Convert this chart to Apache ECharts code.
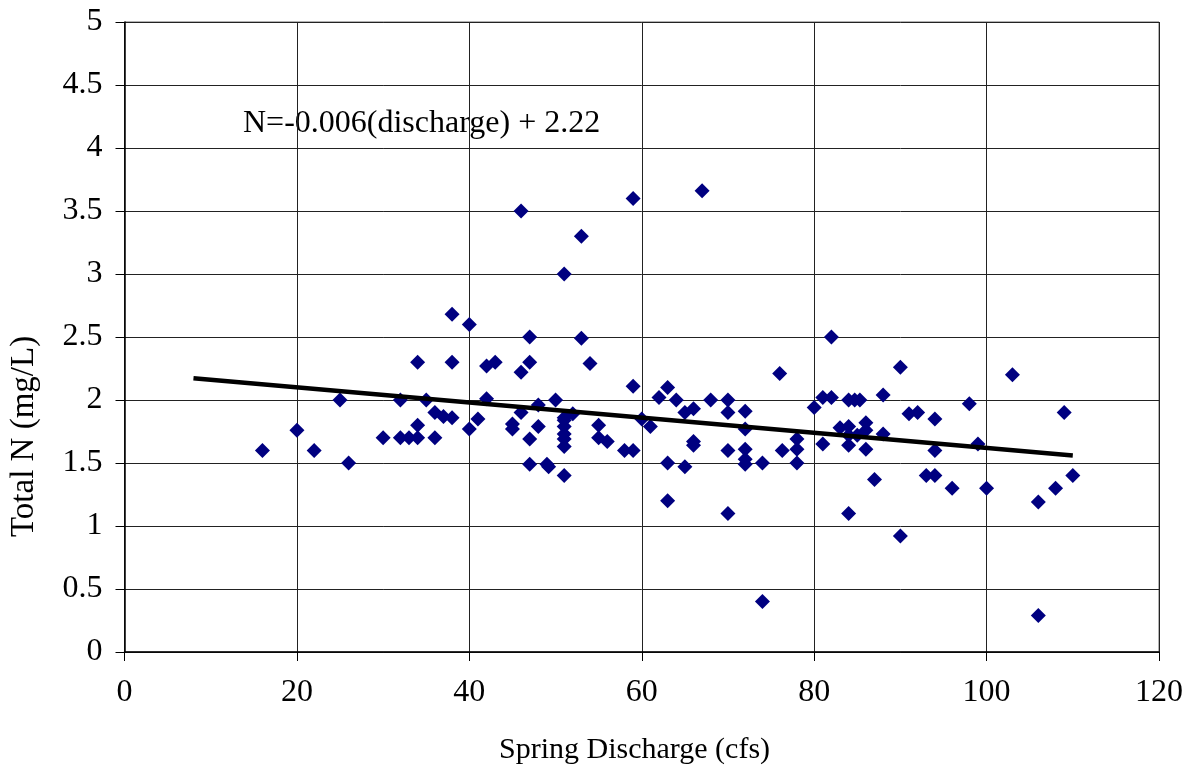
<!DOCTYPE html>
<html>
<head>
<meta charset="utf-8">
<script src="https://cdn.jsdelivr.net/npm/echarts@6/dist/echarts.min.js"></script>
<style>
html,body{margin:0;padding:0;background:#fff;}
#chart{width:1190px;height:775px;}
</style>
</head>
<body>
<div id="chart"></div>
<script>
var discharge = [16,20,22,25,26,30,32,32,33,34,34,34,35,36,36,37,38,38,38,40,40,41,42,42,43,45,45,46,46,46,47,47,47,47,48,48,49,49.2,50,51,51,51,51,51,51,51,51,52,53,53,54,55,55,56,58,59,59,59,60,61,62,63,63,63,64,65,65,66,66,66,67,68,70,70,70,70,72,72,72,72,72,74,74,76,76.3,78,78,78,80,81,81,82,82,83,84,84,84,84,84,84.7,85.3,85,86,86,86,87,88,88,90,90,91,92,93,94,94,94,96,98,99,100,103,106,106,108,109,110];
var totalN = [1.6,1.76,1.6,2.0,1.5,1.7,2.0,1.7,1.7,1.7,1.8,2.3,2.0,1.9,1.7,1.87,1.86,2.3,2.68,2.6,1.77,1.85,2.27,2.01,2.3,1.81,1.77,3.5,2.22,1.9,2.5,2.3,1.69,1.49,1.96,1.79,1.49,1.47,2.0,3.0,1.86,1.84,1.79,1.73,1.69,1.63,1.4,1.89,3.3,2.49,2.29,1.8,1.7,1.67,1.6,3.6,2.11,1.6,1.85,1.79,2.02,2.1,1.5,1.2,2.0,1.9,1.47,1.93,1.67,1.64,3.66,2.0,2.0,1.9,1.6,1.1,1.91,1.77,1.61,1.53,1.49,1.5,0.4,2.21,1.6,1.69,1.61,1.5,1.94,2.02,1.65,2.5,2.02,1.78,2.0,1.79,1.72,1.64,1.1,2.0,2.0,1.72,1.82,1.76,1.61,1.37,2.04,1.73,2.26,0.92,1.89,1.9,1.4,1.85,1.6,1.4,1.3,1.97,1.65,1.3,2.2,1.19,0.29,1.3,1.9,1.4];
var trendX = [8, 110];
var trendY = [2.172, 1.56];
var xTicks = [0,20,40,60,80,100,120];
var yTicks = [0,0.5,1,1.5,2,2.5,3,3.5,4,4.5,5];
var equationText = 'N=-0.006(discharge) + 2.22';
var xTitle = 'Spring Discharge (cfs)';
var yTitle = 'Total N (mg/L)';

var pts = discharge.map(function(x,i){return [x,totalN[i]];});
var trend = trendX.map(function(x,i){return [x,trendY[i]];});
var FONT = '"Liberation Serif","Times New Roman",serif';

var chart = echarts.init(document.getElementById('chart'), null, {renderer:'canvas'});
chart.setOption({
  animation:false,
  backgroundColor:'#fff',
  grid:{left:124.5,right:31,top:22,bottom:123,show:true,borderColor:'#666',borderWidth:1,backgroundColor:'transparent'},
  xAxis:{
    type:'value',min:xTicks[0],max:xTicks[xTicks.length-1],interval:20,
    axisLine:{onZero:false,lineStyle:{color:'#000',width:1.5}},
    axisTick:{show:true,inside:false,length:9,lineStyle:{color:'#000'}},
    axisLabel:{color:'#000',fontFamily:FONT,fontSize:32,margin:25},
    splitLine:{show:true,lineStyle:{color:'#222',width:1}}
  },
  yAxis:{
    type:'value',min:yTicks[0],max:yTicks[yTicks.length-1],interval:0.5,
    axisLine:{onZero:false,lineStyle:{color:'#000',width:1.5}},
    axisTick:{show:true,inside:false,length:9,lineStyle:{color:'#000'}},
    axisLabel:{color:'#000',fontFamily:FONT,fontSize:32,margin:22},
    splitLine:{show:true,lineStyle:{color:'#222',width:1}}
  },
  graphic:[
    {type:'text',left:243,top:108,style:{text:equationText,font:'32px '+FONT,fill:'#000'}},
    {type:'text',left:499,top:735,style:{text:xTitle,font:'30px '+FONT,fill:'#000'}},
    {type:'text',x:8,y:537,rotation:Math.PI/2,style:{text:yTitle,font:'33px '+FONT,fill:'#000'}}
  ],
  series:[
    {type:'scatter',data:pts,symbol:'diamond',symbolSize:15,itemStyle:{color:'#000080',opacity:1},z:3},
    {type:'line',data:trend,showSymbol:false,symbol:'none',lineStyle:{color:'#000',width:4.5},z:4}
  ]
});
</script>
</body>
</html>
